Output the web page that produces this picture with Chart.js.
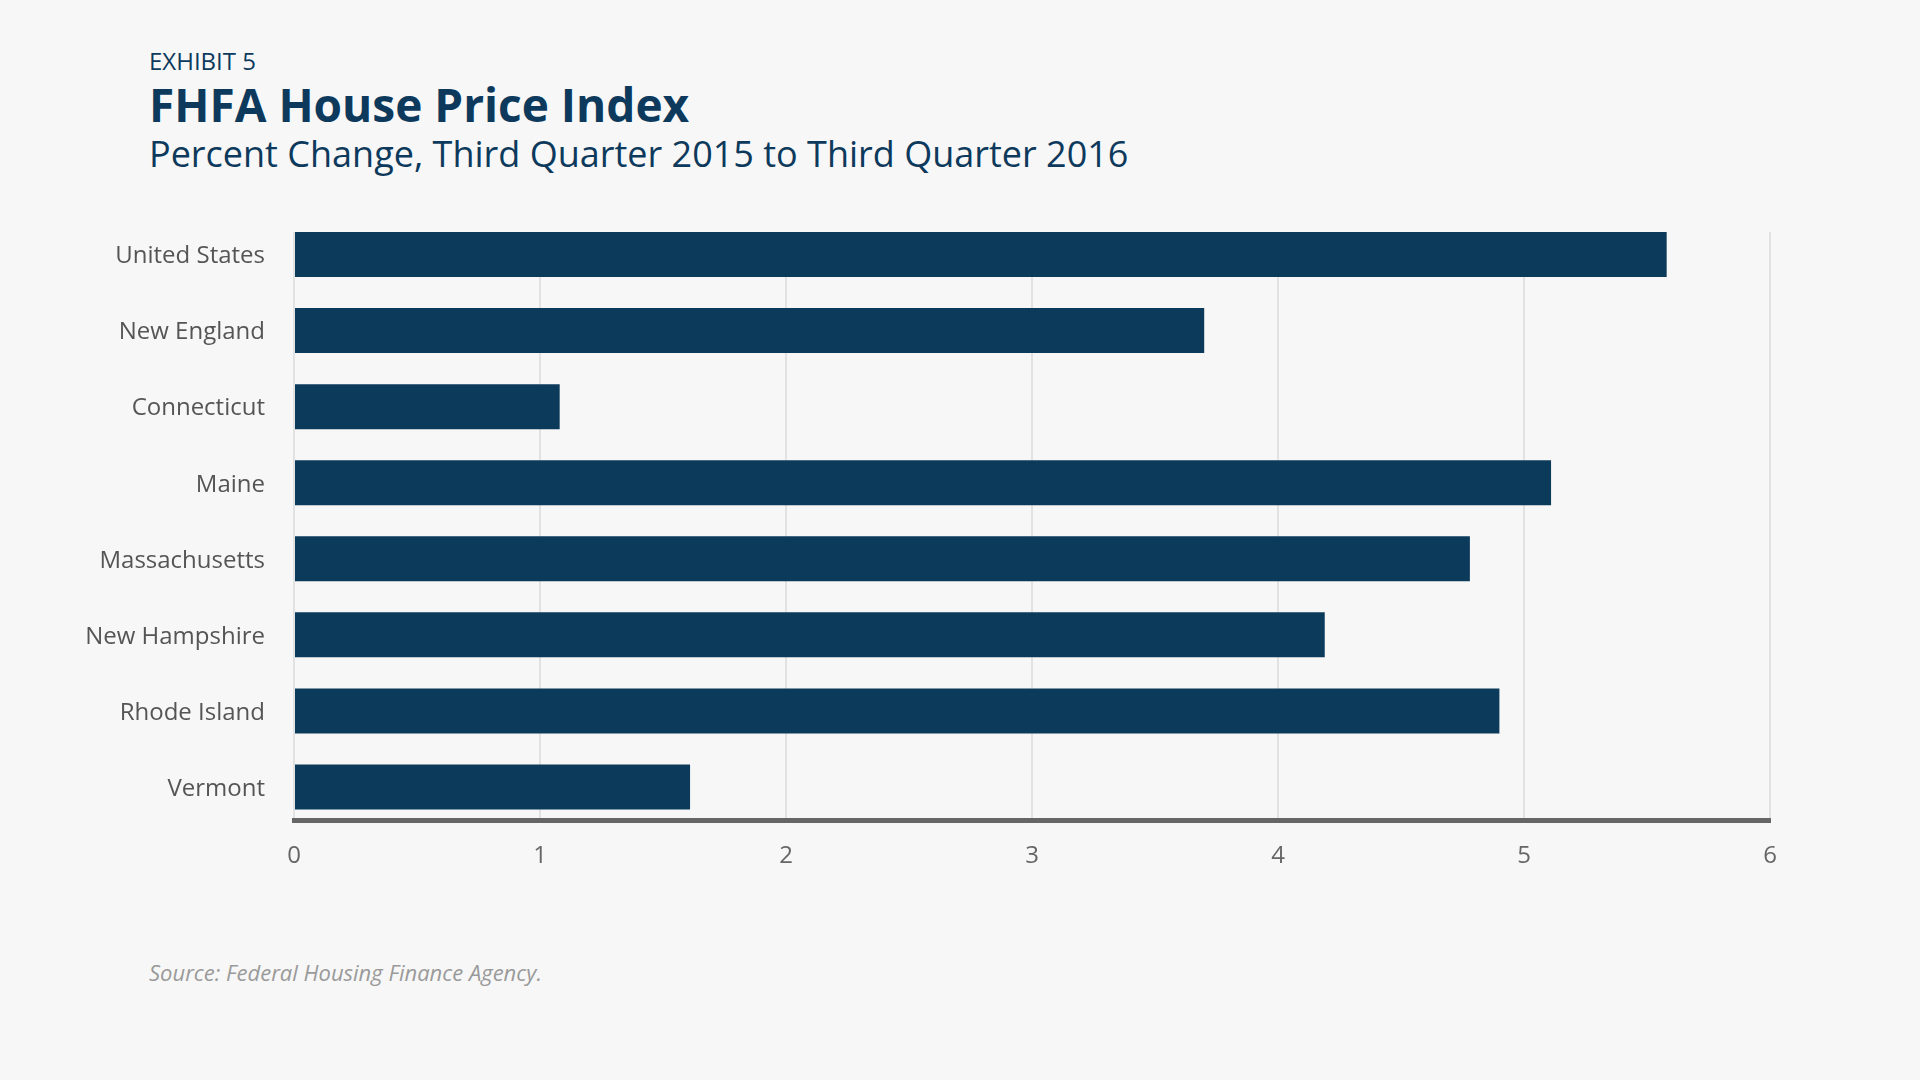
<!DOCTYPE html>
<html>
<head>
<meta charset="utf-8">
<script src="https://cdn.jsdelivr.net/npm/chart.js@4.4.1/dist/chart.umd.min.js"></script>
<style>
  html, body { margin: 0; padding: 0; background: #f7f7f7; }
  body { width: 1920px; height: 1080px; position: relative; overflow: hidden; font-family: "Open Sans", sans-serif; }
  .t { position: absolute; left: 149px; line-height: 1; white-space: nowrap; }
  #exhibit { top: 49px; font-size: 24px; color: #0d3a5c; }
  #title { top: 81px; font-size: 46px; font-weight: 700; color: #0d3a5c; }
  #subtitle { top: 136px; font-size: 36px; color: #0d3a5c; }
  #source { top: 961px; font-size: 22px; font-style: italic; color: #9a9a9a; }
  #wrap { position: absolute; left: 0; top: 0; width: 1920px; height: 1080px; }
</style>
</head>
<body>
<div class="t" id="exhibit">EXHIBIT 5</div>
<div class="t" id="title">FHFA House Price Index</div>
<div class="t" id="subtitle">Percent Change, Third Quarter 2015 to Third Quarter 2016</div>
<div class="t" id="source">Source: Federal Housing Finance Agency.</div>
<div id="wrap"><canvas id="c" width="1920" height="1080"></canvas></div>
<script>
const categories = ["United States", "New England", "Connecticut", "Maine", "Massachusetts", "New Hampshire", "Rhode Island", "Vermont"];
const values = [5.58, 3.70, 1.08, 5.11, 4.78, 4.19, 4.90, 1.61];
const xTicks = [0, 1, 2, 3, 4, 5, 6];

const points = values.map((v, i) => ({ x: v, y: i }));

new Chart(document.getElementById('c'), {
  type: 'bar',
  data: {
    datasets: [{
      data: points,
      backgroundColor: '#0c3a5b',
      borderWidth: 0,
      categoryPercentage: 1,
      barPercentage: 0.592
    }]
  },
  options: {
    indexAxis: 'y',
    responsive: false,
    animation: false,
    devicePixelRatio: 1,
    layout: { padding: { left: 0, top: 232, right: 150, bottom: 180 } },
    plugins: { legend: { display: false }, tooltip: { enabled: false } },
    scales: {
      x: {
        type: 'linear',
        position: 'bottom',
        min: 0,
        max: 6,
        afterBuildTicks: (axis) => { axis.ticks = xTicks.map(v => ({ value: v })); },
        afterFit: (scale) => { scale.height = 80; },
        grid: { display: true, color: '#e2e2e2', lineWidth: 2, drawTicks: false },
        border: { display: true, color: '#666666', width: 5 },
        ticks: {
          padding: 22,
          color: '#666666',
          font: { family: 'Open Sans', size: 24 }
        }
      },
      y: {
        type: 'linear',
        reverse: true,
        offset: false,
        min: -0.296,
        max: 7.434,
        afterBuildTicks: (axis) => { axis.ticks = categories.map((_, i) => ({ value: i })); },
        afterFit: (scale) => { scale.width = 294; },
        grid: { display: false, drawTicks: false, offset: false },
        border: { display: false },
        ticks: {
          padding: 29,
          labelOffset: 2,
          color: '#555555',
          font: { family: 'Open Sans', size: 24 },
          callback: (v) => categories[v] ?? ''
        }
      }
    }
  }
});
</script>
</body>
</html>
